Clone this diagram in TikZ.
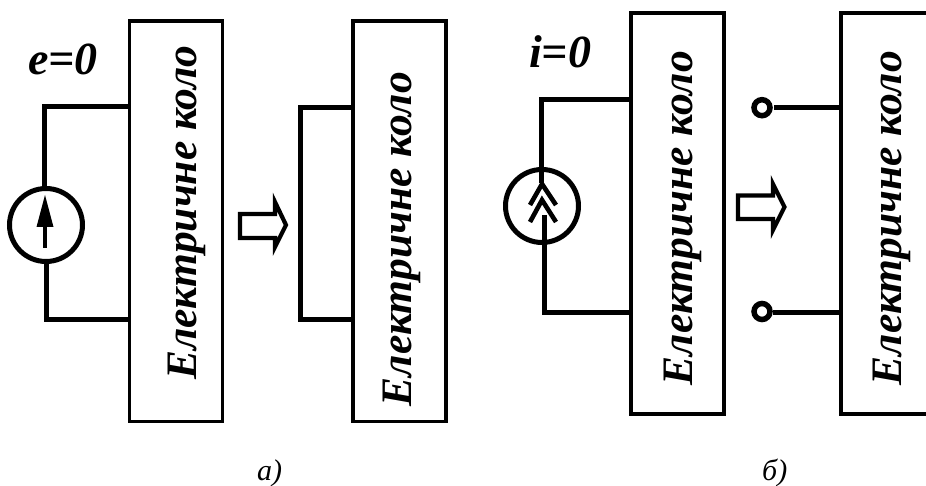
\documentclass[tikz,border=0pt]{standalone}
\usepackage{fontspec}
\setmainfont{Liberation Serif}
\begin{document}
\begin{tikzpicture}[x=1pt,y=-1pt,
  block/.style={draw=black,line width=3.8pt,fill=white,rectangle,inner sep=0pt,minimum width=93pt,minimum height=400.5pt,anchor=north west},
  wire/.style={draw=black,line width=5pt,line cap=butt,line join=miter},
  source/.style={circle,draw=black,line width=5pt,fill=white,minimum size=73pt,inner sep=0pt},
  terminal/.style={circle,draw=black,line width=5.5pt,fill=white,minimum size=16pt,inner sep=0pt},
  boxtext/.style={rotate=90,anchor=base west,inner sep=0pt,font=\fontsize{43.5}{46}\selectfont\bfseries\itshape},
  eqtext/.style={inner sep=0pt,anchor=base west,font=\fontsize{46}{48}\selectfont\bfseries\itshape},
  captext/.style={inner sep=0pt,anchor=base west,font=\fontsize{30}{32}\selectfont\itshape},
  hollow/.style={draw=black,line width=4.2pt,fill=white,line join=miter,miter limit=10}]
\useasboundingbox (0,0) rectangle (926,486);
\clip (0,0) rectangle (926,486);
% blocks
\node[block] (b1) at (127.5,19) {};
\node[block] (b2) at (350.7,19) {};
\node[block] (b3) at (628.8,11.5) {};
\node[block,minimum width=110pt] (b4) at (839,11.5) {};
\node[boxtext] (t1) at (196.5,380) {Електричне коло};
\node[boxtext] (t2) at (411.5,406.5) {Електричне коло};
\node[boxtext] (t3) at (692,385.5) {Електричне коло};
\node[boxtext] (t4) at (901,385.5) {Електричне коло};
% part a, source
\node[source] (s1) at (46,225) {};
\coordinate (a1) at (b1.west|-0,107);
\coordinate (a2) at (b1.west|-0,319);
\draw[wire] (a1) -- (44.7,107) -- (44.7,190);
\draw[wire] (a2) -- (46,319) -- (46,260);
\coordinate (ar1) at (45,248);
\coordinate (ar2) at (45,224);
\coordinate (ar3) at (45,195);
\draw[line width=3.6pt] (ar1) -- (ar2);
\fill (ar3) -- (53.5,227) -- (36.5,227) -- cycle;
% part a, shorted
\coordinate (a3) at (b2.west|-0,108);
\coordinate (a4) at (b2.west|-0,319);
\draw[wire] (a3) -- (300.5,108) -- (300.5,319) -- (a4);
% part a, hollow arrow
\draw[hollow] (240,214) -- (275,214) -- (275,202) -- (286,225) -- (275,247) -- (275,238) -- (240,238) -- cycle;
% part b, source
\node[source] (s2) at (542,206) {};
\coordinate (c1) at (b3.west|-0,100);
\coordinate (c2) at (b3.west|-0,312.5);
\draw[wire] (c1) -- (541.5,100) -- (541.5,183);
\draw[wire] (c2) -- (544,312.5) -- (544,215);
\draw[wire,line width=4.6pt] (530,205) -- (542,184) -- (556,205);
\draw[wire,line width=4.6pt] (530,222) -- (542,200) -- (556,222);
% part b, hollow arrow
\draw[hollow] (738,195.5) -- (773,195.5) -- (773,184) -- (784.5,207) -- (773,230) -- (773,219) -- (738,219) -- cycle;
% part b, open terminals
\node[terminal] (o1) at (762,107.7) {};
\node[terminal] (o2) at (762,311.5) {};
\coordinate (d1) at (b4.west|-0,107.5);
\coordinate (d2) at (b4.west|-0,312.5);
\draw[wire] (o1.east|-d1) ++(1,0) -- (d1);
\draw[wire] (o2.east|-d2) -- (d2);
% labels
\node[eqtext] (e0) at (28,75) {e=0};
\node[eqtext] (i0) at (529,68) {i=0};
\node[captext] (ca) at (257,480) {а)};
\node[captext] (cb) at (762,480) {б)};
\end{tikzpicture}
\end{document}
